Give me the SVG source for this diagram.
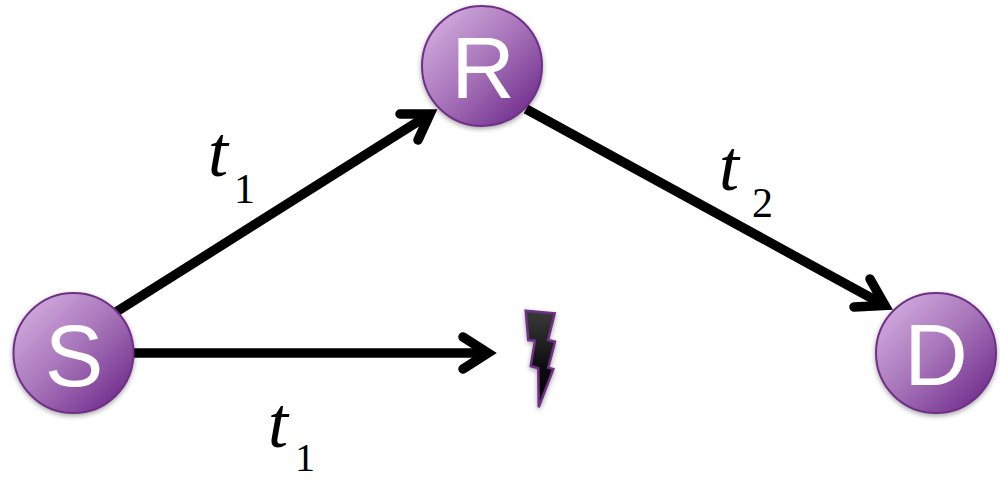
<svg xmlns="http://www.w3.org/2000/svg" width="1000" height="480" viewBox="0 0 1000 480">
<style>
.n{stroke:#703088;stroke-width:2;fill:url(#g);filter:url(#sh)}
.l{font-family:"Liberation Sans",Arial,sans-serif;font-size:88px;fill:#fff;text-anchor:middle}
.e{fill:none;stroke:#000;stroke-width:9.500}
.h{fill:none;stroke:#000;stroke-width:9.500;stroke-linecap:round;stroke-linejoin:miter;stroke-miterlimit:10}
.t{font-family:"Liberation Serif","Times New Roman",serif;font-style:italic;font-size:72px;fill:#000}
.s{font-family:"Liberation Serif","Times New Roman",serif;font-size:42px;fill:#000}
.b{font-size:40px}
</style>
<defs>
<linearGradient id="g" x1="0.12" y1="0.12" x2="0.88" y2="0.88">
<stop offset="0" stop-color="#cfa8dc"/><stop offset="0.5" stop-color="#a673b8"/><stop offset="1" stop-color="#743290"/>
</linearGradient>
<linearGradient id="b" x1="0" y1="0" x2="0" y2="1"><stop offset="0" stop-color="#3a3a3a"/><stop offset="0.6" stop-color="#0c0c0c"/><stop offset="1" stop-color="#000"/></linearGradient>
<filter id="sh" x="-20%" y="-20%" width="140%" height="140%" color-interpolation-filters="sRGB"><feDropShadow dx="0" dy="2" stdDeviation="2.500" flood-color="#000" flood-opacity="0.35"/></filter>
</defs>
<g id="connectors">
<path class="e" d="M116 312L430 114"/><path class="h" d="M400 114L430 114L418 140"/>
<path class="e" d="M134 353H488"/><path class="h" d="M463 337L488 353L463 369"/>
<path class="e" d="M526 109L885 305.500"/><path class="h" d="M870 279L885 305.500L854 307"/>
</g>
<g id="node-R"><circle class="n" cx="482" cy="66" r="60"/><text class="l" x="483" y="98">R</text></g>
<g id="node-S"><circle class="n" cx="73.500" cy="353" r="60"/><text class="l" x="74" y="386">S</text></g>
<g id="node-D"><circle class="n" cx="936" cy="353" r="60"/><text class="l" x="936" y="385">D</text></g>
<g id="bolt"><polygon points="525.700,310.700 554.700,313.300 548,340 555,341.700 548.300,367.700 553.300,369 538.700,407.300 538.300,368.300 530.700,366 535,340.700 528.300,340" fill="url(#b)" stroke="#703088" stroke-width="2.500" filter="url(#sh)"/></g>
<g id="labels">
<text class="t" x="208" y="176">t</text><text class="s" x="234" y="203">1</text>
<text class="t" x="719" y="190">t</text><text class="s" x="752" y="217">2</text>
<text class="t" x="268" y="447">t</text><text class="s b" x="295" y="471">1</text>
</g>
</svg>
